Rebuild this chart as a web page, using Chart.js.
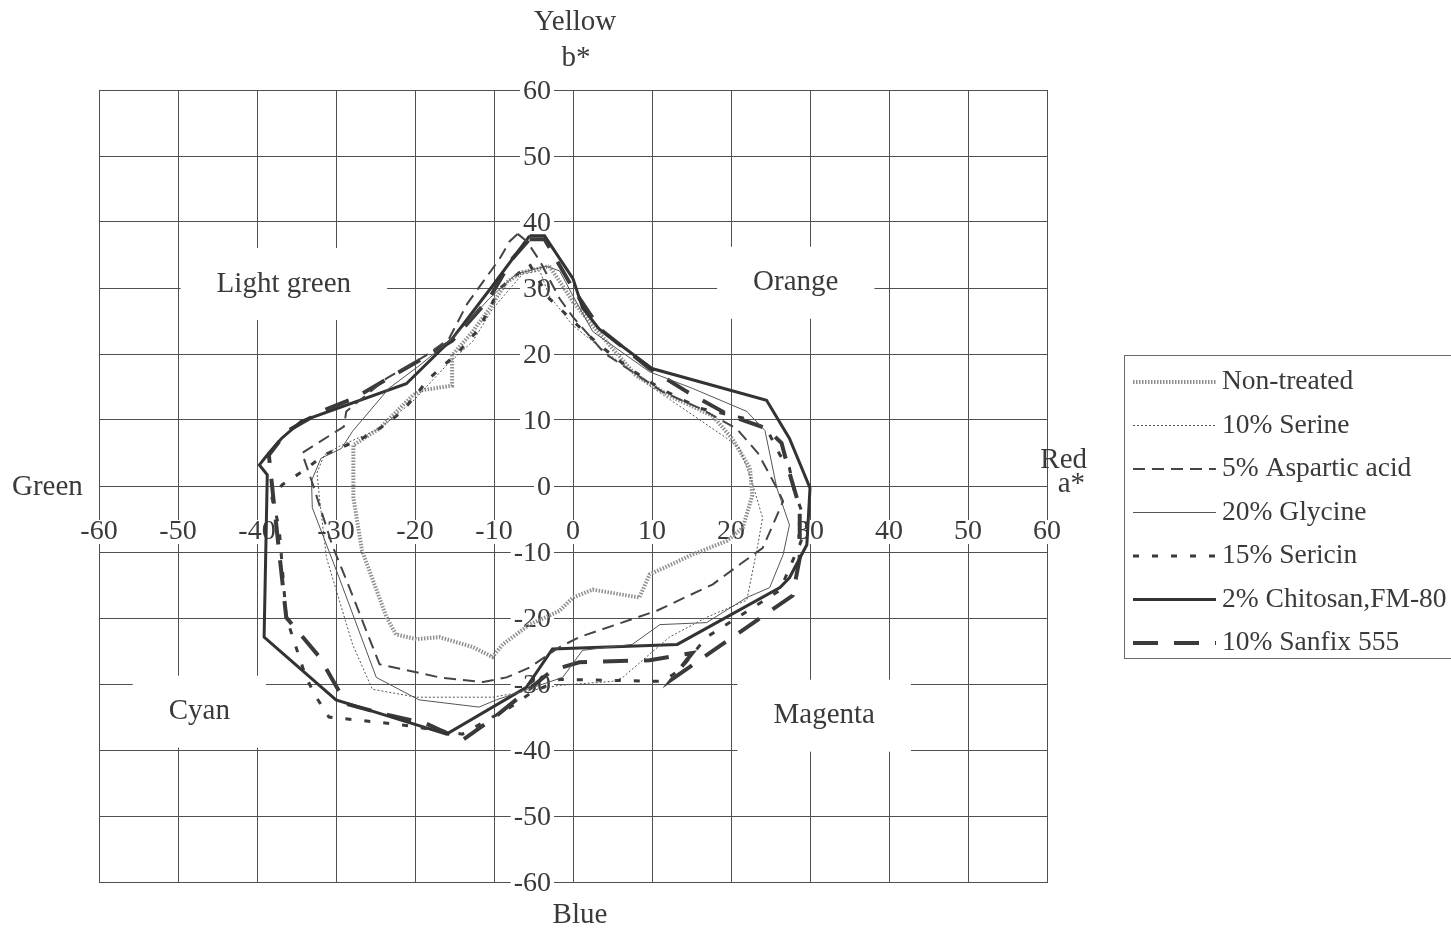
<!DOCTYPE html>
<html>
<head>
<meta charset="utf-8">
<script src="https://cdn.jsdelivr.net/npm/chart.js@4.4.1/dist/chart.umd.min.js"></script>
<style>
  html, body { margin: 0; padding: 0; background: #ffffff; }
  #wrap { position: relative; width: 1451px; height: 933px; }
</style>
</head>
<body>
<div id="wrap"><canvas id="chart" width="1451" height="933"></canvas></div>
<script>
// CIELAB a*/b* colour coordinates, one closed loop per treatment
const tickValues = [-60, -50, -40, -30, -20, -10, 0, 10, 20, 30, 40, 50, 60];
const seriesNames = ['Non-treated', '10% Serine', '5% Aspartic acid', '20% Glycine',
                     '15% Sericin', '2% Chitosan,FM-80', '10% Sanfix 555'];

const nonTreatedA = [-3.0, -1.3, 0, 2.5, 8.0, 12.2, 17.7, 20.2, 22.4, 22.7, 21.5, 19.5, 15.1, 9.7, 8.4, 2.5, 0, -1.7, -5.5, -8.9, -10.2, -12.7, -16.9, -19.8, -22.4, -23.6, -26.7, -27.8, -27.8, -24.5, -20.3, -19.2, -15.3, -15.3, -12.7, -10.6, -8.4, -6.4];
const nonTreatedB = [33.3, 30.3, 27.9, 24.3, 16.7, 13.7, 10.6, 7.1, 2.7, -1.4, -6.3, -8.3, -10.4, -13.4, -16.9, -15.7, -16.9, -18.9, -21.0, -24.0, -25.9, -24.4, -22.9, -23.2, -22.5, -19.9, -9.8, -1.8, 6.2, 8.7, 13.7, 14.5, 15.2, 19.8, 23.4, 26.8, 30.9, 32.4];

const serineA = [-6.4, -4.2, -3.0, 0, 2.5, 9.7, 19.5, 21.1, 22.6, 24.0, 23.4, 22.0, 16.9, 12.2, 6.3, 5.0, -1.7, -10.2, -19.8, -25.4, -27.9, -31.2, -32.1, -32.4, -31.5, -29.6, -24.5, -20.3, -16.0, -12.7, -10.2];
const serineB = [32.1, 32.6, 28.8, 24.3, 21.9, 15.2, 7.2, 5.7, 0.8, -4.8, -8.9, -17.3, -19.9, -22.9, -29.0, -29.6, -30.2, -32.0, -32.0, -30.8, -24.0, -10.9, -1.8, 2.0, 4.7, 6.0, 8.7, 12.8, 18.3, 21.9, 26.8];

const asparticA = [-7.0, -5.8, -4.2, -1.7, 0, 4.0, 11.3, 16.0, 20.7, 23.4, 25.8, 26.6, 25.3, 24.0, 21.1, 17.7, 10.6, 0.8, -1.7, -5.5, -8.4, -11.4, -16.9, -21.1, -24.5, -28.3, -30.5, -33.0, -34.3, -29.0, -28.7, -23.6, -18.6, -15.7, -13.4, -9.3, -8.0];
const asparticB = [38.2, 37.0, 34.1, 28.4, 25.6, 20.1, 14.3, 11.8, 8.7, 5.0, -0.3, -2.3, -5.9, -9.4, -11.9, -14.9, -18.9, -22.9, -24.4, -27.5, -29.0, -29.7, -29.0, -27.9, -27.0, -15.4, -8.9, 0.5, 5.0, 9.0, 11.3, 16.3, 19.8, 22.3, 27.6, 34.4, 37.1];

const glycineA = [-7.2, -3.4, -1.7, 0, 2.5, 9.7, 15.1, 22.0, 24.3, 25.8, 27.4, 26.6, 24.9, 22.0, 16.9, 11.0, 7.5, 1.2, -1.3, -9.7, -11.9, -19.5, -24.9, -29.6, -33.0, -33.1, -31.9, -29.3, -27.9, -23.3, -19.5, -15.3, -10.6];
const glycineB = [32.1, 33.3, 32.6, 28.8, 23.4, 17.3, 14.8, 11.3, 8.4, -0.3, -5.9, -10.4, -15.4, -16.9, -20.7, -21.0, -24.0, -24.9, -29.0, -32.4, -33.5, -32.4, -29.0, -13.9, -3.3, 0.8, 4.2, 5.7, 8.3, 14.8, 18.2, 22.3, 28.4];

const sericinA = [-5.5, -3.0, 0, 3.4, 6.8, 11.0, 16.0, 21.5, 24.5, 26.2, 27.4, 28.1, 29.6, 28.7, 27.4, 26.2, 16.9, 13.5, 11.3, -1.7, -5.5, -8.4, -10.2, -14.0, -21.6, -25.4, -30.9, -32.5, -33.8, -36.3, -37.2, -38.1, -36.8, -34.0, -31.5, -29.6, -26.7, -24.5, -21.6, -18.2, -14.4, -11.9, -9.3];
const sericinB = [33.6, 28.4, 25.0, 21.3, 18.1, 14.8, 11.8, 10.3, 8.7, 4.7, 2.7, -1.1, -5.9, -8.9, -12.4, -15.8, -22.9, -27.9, -29.6, -29.3, -31.5, -33.9, -35.0, -37.6, -36.2, -35.7, -35.0, -32.0, -29.0, -19.9, -6.3, -1.8, 0.2, 2.4, 4.7, 5.7, 7.2, 8.7, 11.3, 16.3, 20.4, 23.8, 29.9];

const chitosanA = [-5.5, -3.6, 0, 1.2, 3.3, 10.0, 24.5, 27.4, 30.0, 29.6, 27.4, 26.2, 13.2, -2.6, -5.9, -16.0, -30.0, -39.1, -38.7, -39.7, -38.5, -36.9, -34.4, -21.1, -15.3, -10.2];
const chitosanB = [37.9, 37.9, 31.4, 27.0, 23.8, 17.8, 13.0, 7.2, -0.3, -8.9, -13.9, -15.4, -24.0, -24.7, -30.5, -37.6, -32.4, -22.9, 1.7, 3.2, 5.0, 7.2, 9.8, 15.5, 22.3, 30.3];

const sanfixA = [-5.5, -3.6, 0, 3.4, 9.7, 14.4, 19.8, 24.5, 26.4, 27.4, 28.7, 28.7, 27.8, 12.5, 15.1, 9.7, 0.8, -2.6, -10.2, -14.0, -18.6, -24.1, -28.7, -32.1, -36.3, -37.8, -38.5, -36.2, -31.5, -27.7, -22.4, -17.9, -15.3, -10.6, -7.7];
const sanfixB = [37.4, 37.4, 29.9, 23.8, 17.8, 14.3, 10.7, 8.7, 6.5, 2.0, -3.3, -10.9, -16.6, -29.3, -25.3, -26.4, -26.7, -27.9, -35.3, -38.5, -36.0, -34.5, -33.0, -25.9, -19.9, -3.3, 4.7, 8.3, 11.5, 13.3, 17.0, 20.1, 22.0, 28.4, 34.4];

// Line styles for each treatment
const STYLES = [
  { color: '#8f8f8f', width: 4,   dash: [1.5, 1.5] },
  { color: '#555555', width: 1,   dash: [2, 2] },
  { color: '#454545', width: 2,   dash: [12, 7] },
  { color: '#555555', width: 1,   dash: [] },
  { color: '#3a3a3a', width: 3,   dash: [6, 13] },
  { color: '#333333', width: 3,   dash: [] },
  { color: '#3a3a3a', width: 4,   dash: [25, 16] }
];

// Build closed loops from the paired coordinate lists
function loop(a, b) {
  const pts = a.map((v, i) => ({ x: v, y: b[i] }));
  pts.push({ x: a[0], y: b[0] });
  return pts;
}
const seriesData = [
  loop(nonTreatedA, nonTreatedB),
  loop(serineA, serineB),
  loop(asparticA, asparticB),
  loop(glycineA, glycineB),
  loop(sericinA, sericinB),
  loop(chitosanA, chitosanB),
  loop(sanfixA, sanfixB)
];

const TEXT = '#3a3a3a';
const SERIF = '"Liberation Serif", "DejaVu Serif", serif';

function boxedText(ctx, text, x, y, align, padX, padY) {
  const w = ctx.measureText(text).width;
  const left = align === 'right' ? x - w : (align === 'center' ? x - w / 2 : x);
  ctx.fillStyle = '#ffffff';
  ctx.fillRect(left - padX, y - padY, w + 2 * padX, 2 * padY);
  ctx.fillStyle = TEXT;
  ctx.textAlign = align;
  ctx.textBaseline = 'middle';
  ctx.fillText(text, x, y);
}

// Hue-region names placed in a*/b* space
const regionLabels = [
  { text: 'Light green', a: -36.6, b: 30.6 },
  { text: 'Orange',      a: 28.2,  b: 30.8 },
  { text: 'Cyan',        a: -47.3, b: -34.2 },
  { text: 'Magenta',     a: 31.8,  b: -34.8 }
];

const axisTextPlugin = {
  id: 'axisText',
  beforeDatasetsDraw(chart) {
    const ctx = chart.ctx;
    const xs = chart.scales.x, ys = chart.scales.y;
    const x0 = xs.getPixelForValue(0), y0 = ys.getPixelForValue(0);
    ctx.save();
    // region names, each on a white patch over the grid
    ctx.font = '29px ' + SERIF;
    regionLabels.forEach(r => {
      boxedText(ctx, r.text, xs.getPixelForValue(r.a), ys.getPixelForValue(r.b), 'center', 36, 36);
    });
    // a* tick labels hang below the a* axis
    ctx.font = '28px ' + SERIF;
    tickValues.forEach(v => {
      boxedText(ctx, String(v), xs.getPixelForValue(v), y0 + 46, 'center', 3, 12);
    });
    // b* tick labels sit left of the b* axis
    tickValues.forEach(v => {
      boxedText(ctx, String(v), x0 - 22, ys.getPixelForValue(v) + 2, 'right', 3, 12);
    });
    ctx.restore();
  },
  afterDraw(chart) {
    const ctx = chart.ctx;
    const xs = chart.scales.x, ys = chart.scales.y;
    const x0 = xs.getPixelForValue(0), y0 = ys.getPixelForValue(0);
    const top = chart.chartArea.top, bottom = chart.chartArea.bottom;
    const left = chart.chartArea.left, right = chart.chartArea.right;
    ctx.save();
    ctx.fillStyle = TEXT;
    ctx.textBaseline = 'middle';
    ctx.font = '29px ' + SERIF;
    ctx.textAlign = 'center';
    ctx.fillText('Yellow', x0 + 2, top - 68);
    ctx.fillText('b*', x0 + 3, top - 32);
    ctx.fillText('Blue', x0 + 7, bottom + 33);
    ctx.textAlign = 'left';
    ctx.fillText('Green', left - 87, y0 + 1);
    ctx.textAlign = 'right';
    ctx.fillText('Red', right + 40, y0 - 26);
    ctx.fillText('a*', right + 38, y0 - 2);

    // legend
    const lx = 1124, ly = 355, lw = 340, lh = 303;
    ctx.strokeStyle = '#6a6a6a';
    ctx.lineWidth = 1;
    ctx.strokeRect(lx + 0.5, ly + 0.5, lw, lh);
    ctx.font = '27.5px ' + SERIF;
    ctx.textAlign = 'left';
    seriesNames.forEach((name, i) => {
      const cy = 382 + i * 43.5;
      const st = STYLES[i];
      ctx.save();
      ctx.strokeStyle = st.color;
      ctx.lineWidth = st.width;
      ctx.setLineDash(st.dash);
      ctx.beginPath();
      ctx.moveTo(1133, cy);
      ctx.lineTo(1216, cy);
      ctx.stroke();
      ctx.restore();
      ctx.fillStyle = TEXT;
      ctx.fillText(name, 1222, cy);
    });
    ctx.restore();
  }
};

const datasets = seriesData.map((pts, i) => ({
  label: seriesNames[i],
  data: pts,
  showLine: true,
  fill: false,
  tension: 0,
  pointRadius: 0,
  pointHoverRadius: 0,
  borderColor: STYLES[i].color,
  borderWidth: STYLES[i].width,
  borderDash: STYLES[i].dash,
  order: i === 0 ? 10 : 1
}));

const gridStyle = {
  color: '#505050',
  lineWidth: 1,
  drawTicks: false
};

new Chart(document.getElementById('chart'), {
  type: 'scatter',
  data: { datasets },
  plugins: [axisTextPlugin],
  options: {
    responsive: false,
    animation: false,
    devicePixelRatio: 1,
    layout: { padding: { left: 99, right: 404, top: 90, bottom: 51 } },
    plugins: { legend: { display: false }, tooltip: { enabled: false } },
    scales: {
      x: {
        type: 'linear', min: -60, max: 60,
        ticks: { stepSize: 10, display: false },
        grid: gridStyle,
        border: { display: true, color: '#505050', width: 1 }
      },
      y: {
        type: 'linear', min: -60, max: 60,
        ticks: { stepSize: 10, display: false },
        grid: gridStyle,
        border: { display: true, color: '#505050', width: 1 }
      }
    }
  }
});
</script>
</body>
</html>
